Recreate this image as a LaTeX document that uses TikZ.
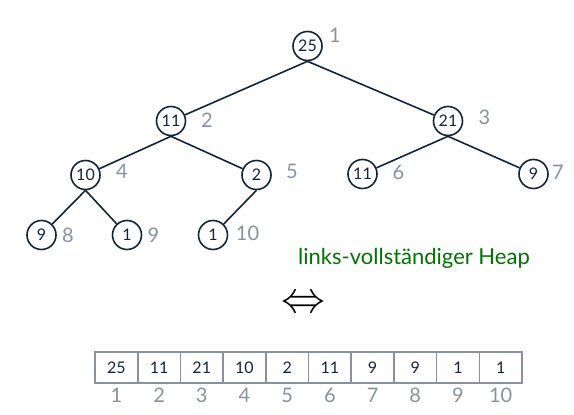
\documentclass[tikz,border=0pt]{standalone}
\usepackage{fontspec}
\setmainfont{Lato}
\definecolor{navy}{RGB}{20,35,60}
\definecolor{idxgray}{RGB}{135,145,162}
\definecolor{heapgreen}{RGB}{0,115,0}
\begin{document}
\begin{tikzpicture}[x=1pt,y=-1pt,
	knoten/.style={circle,draw=navy,line width=1.6pt,minimum size=29pt,inner sep=1pt,text=navy,font=\fontsize{16}{16}\selectfont},
	idx/.style={text=idxgray,font=\fontsize{20}{20}\selectfont,inner sep=0pt},
	kante/.style={draw=navy,line width=1.6pt},
	zelle/.style={draw=idxgray,line width=1.6pt,minimum width=42.7pt,minimum height=31.5pt,inner sep=0pt,text=navy,font=\fontsize{16}{16}\selectfont}]
	\useasboundingbox (0,0) rectangle (574,415);
	% tree
	\node[knoten] (n1) at (307.5,46) {25};
	\node[knoten] (n2) at (171,121) {11};
	\node[knoten] (n3) at (448,121) {21};
	\node[knoten] (n4) at (85.5,175) {10};
	\node[knoten] (n5) at (256.5,175) {2};
	\node[knoten] (n6) at (362.5,174) {11};
	\node[knoten] (n7) at (533.5,174) {9};
	\node[knoten] (n8) at (41.5,235) {9};
	\node[knoten] (n9) at (127,235) {1};
	\node[knoten] (n10) at (213,235) {1};
	\draw[kante] (n1.south) -- (n2);
	\draw[kante] (n1.south) -- (n3);
	\draw[kante] (n2.south) -- (n4);
	\draw[kante] (n2.south) -- (n5);
	\draw[kante] (n3.south) -- (n6);
	\draw[kante] (n3.south) -- (n7);
	\draw[kante] (n4.south) -- (n8);
	\draw[kante] (n4.south) -- (n9);
	\draw[kante] (n5.south) -- (n10);
	% positions
	\node[idx] (i1) at (335,35.5) {1};
	\node[idx] (i2) at (207,120.5) {2};
	\node[idx] (i3) at (484.5,117.5) {3};
	\node[idx] (i4) at (122,171.5) {4};
	\node[idx] (i5) at (292,171.5) {5};
	\node[idx] (i6) at (398.5,172) {6};
	\node[idx] (i7) at (558,172) {7};
	\node[idx] (i8) at (68,235) {8};
	\node[idx] (i9) at (153.5,235) {9};
	\node[idx] (i10) at (247.5,233) {10};
	\node[anchor=base west,text=heapgreen,font=\fontsize{22}{22}\selectfont,inner sep=0pt] (heap) at (298,264) {links-vollständiger Heap};
	\node (eqv) at (303,304) {\scalebox{4.4}{$\Leftrightarrow$}};
	% array
	\foreach \v [count=\i] in {25,11,21,10,2,11,9,9,1,1}
	{
		\node[zelle] (a\i) at (95+42.7*\i-21.35,367.5) {\v};
		\node[idx] (p\i) at (95+42.7*\i-21.35,395) {\i};
	}
\end{tikzpicture}
\end{document}
